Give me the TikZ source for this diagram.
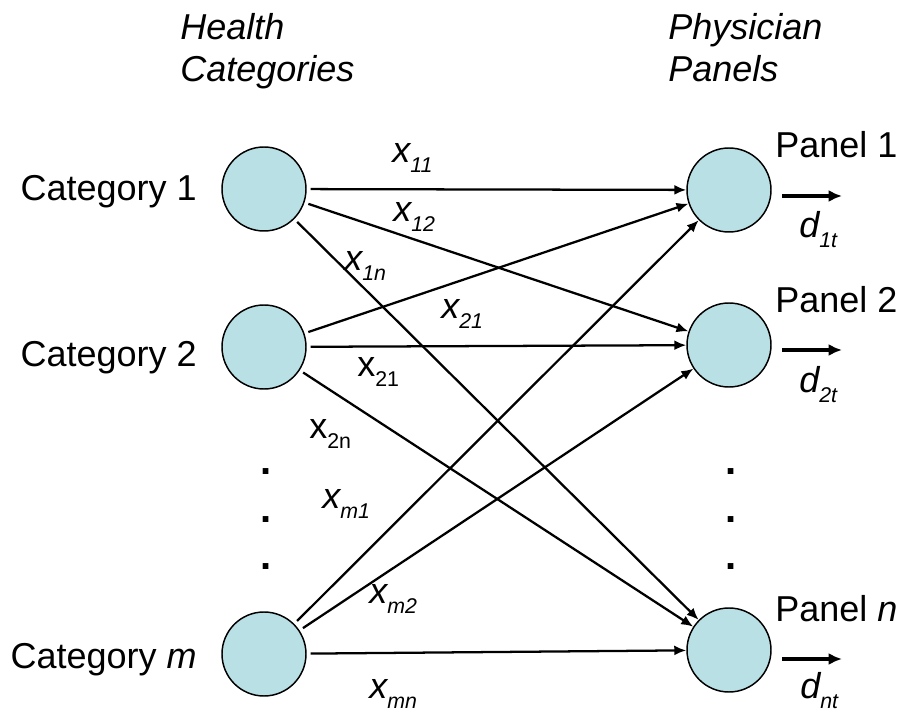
\documentclass[tikz,border=0pt]{standalone}
\usepackage{fontspec}
\setmainfont{Liberation Sans}
\usetikzlibrary{arrows.meta}
\definecolor{nodeblue}{RGB}{185,224,228}
\newcommand{\lowsub}[1]{\raisebox{-7.5pt}{\fontsize{16}{16}\selectfont #1}}

\begin{document}
\begin{tikzpicture}[x=0.75pt,y=-0.75pt,font=\fontsize{27}{32}\selectfont,
  catnode/.style={circle,draw,line width=1.1pt,fill=nodeblue,minimum size=63pt,inner sep=0pt},
  flow/.style={line width=1.7pt,-{Latex[length=9pt,width=7.5pt]},shorten <=3pt},
  demand/.style={line width=3pt,-{Latex[length=10pt,width=9pt]}},
  lbl/.style={anchor=base west,inner sep=0pt},
  dotlbl/.style={inner sep=0pt,font=\fontsize{30}{32}\selectfont\bfseries}]
\useasboundingbox (0,0) rectangle (897,723);

% headings
\node[lbl] (h1) at (180,40) {\itshape Health};
\node[lbl] (h2) at (180,82) {\itshape Categories};
\node[lbl] (h3) at (668,40) {\itshape Physician};
\node[lbl] (h4) at (668,82) {\itshape Panels};

% categories
\node[catnode] (c1) at (264,189) {};
\node[catnode] (c2) at (264,347) {};
\node[catnode] (cm) at (264,654) {};
\node[anchor=base east,inner sep=0pt] (c1t) at (197,201) {Category 1};
\node[anchor=base east,inner sep=0pt] (c2t) at (197,367) {Category 2};
\node[anchor=base east,inner sep=0pt] (cmt) at (197,668) {Category \textit{m}};

% panels
\node[catnode] (p1) at (729,190) {};
\node[catnode] (p2) at (729,345) {};
\node[catnode] (pn) at (729,650) {};
\node[lbl] (p1t) at (775,158) {Panel 1};
\node[lbl] (p2t) at (775,313) {Panel 2};
\node[lbl] (pnt) at (775,622) {Panel \textit{n}};

% vertical dots
\node[dotlbl] (ld1) at (266,472) {.};
\node[dotlbl] (ld2) at (266,520) {.};
\node[dotlbl] (ld3) at (266,567) {.};
\node[dotlbl] (rd1) at (731,472) {.};
\node[dotlbl] (rd2) at (731,520) {.};
\node[dotlbl] (rd3) at (731,567) {.};

% flows
\draw[flow] (c1) -- (p1);
\draw[flow] (c1) -- (p2);
\draw[flow] (c1) -- (pn);
\draw[flow] (c2) -- (p1);
\draw[flow] (c2) -- (p2);
\draw[flow] (c2) -- (pn);
\draw[flow] (cm) -- (p1);
\draw[flow] (cm) -- (p2);
\draw[flow] (cm) -- (pn);

\node[lbl] (x11) at (392,163) {\itshape x\lowsub{11}};
\node[lbl] (x12) at (393,222) {\itshape x\lowsub{12}};
\node[lbl] (x1n) at (344,271) {\itshape x\lowsub{1n}};
\node[lbl] (x21a) at (441,319) {\itshape x\lowsub{21}};
\node[lbl] (x21b) at (357,377) {x\lowsub{21}};
\node[lbl] (x2n) at (309,439) {x\lowsub{2n}};
\node[lbl] (xm1) at (322,509) {\itshape x\lowsub{m1}};
\node[lbl] (xm2) at (369,604) {\itshape x\lowsub{m2}};
\node[lbl] (xmn) at (369,699) {\itshape x\lowsub{mn}};

% demands
\coordinate (d1s) at (782,196);
\coordinate (d1e) at (842,196);
\coordinate (d2s) at (782,350);
\coordinate (d2e) at (842,350);
\coordinate (dns) at (782,659);
\coordinate (dne) at (842,659);
\draw[demand] (d1s) -- (d1e);
\draw[demand] (d2s) -- (d2e);
\draw[demand] (dns) -- (dne);
\node[lbl] (d1) at (799,238) {\itshape d\lowsub{1t}};
\node[lbl] (d2) at (799,393) {\itshape d\lowsub{2t}};
\node[lbl] (dn) at (800,698) {\itshape d\lowsub{nt}};

\end{tikzpicture}
\end{document}
